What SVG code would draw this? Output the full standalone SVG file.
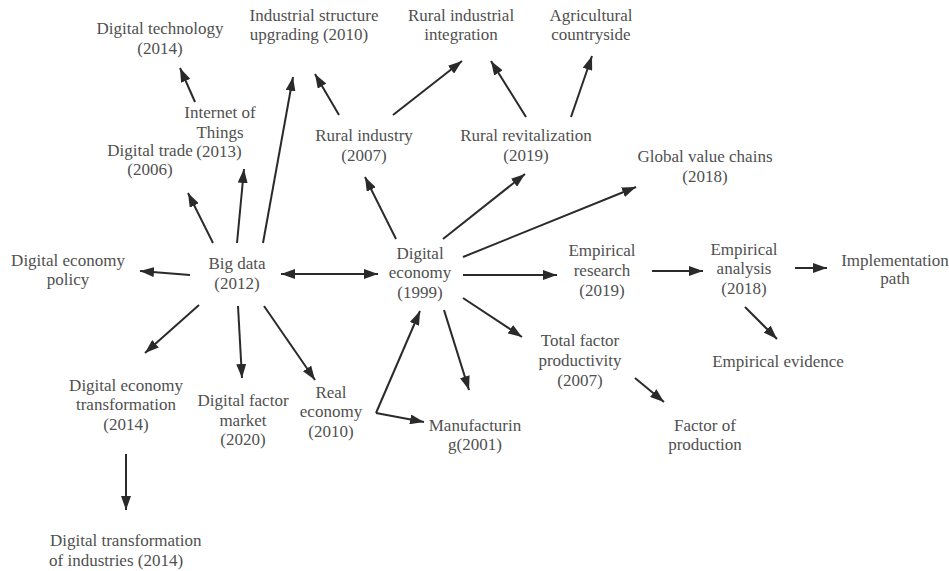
<svg xmlns="http://www.w3.org/2000/svg" width="949" height="571" viewBox="0 0 949 571">
<style>
text{font-family:"Liberation Serif","Times New Roman",serif;font-size:17px;fill:#505050;text-anchor:middle}
.conn line{stroke:#2a2a2a;stroke-width:2;fill:none;marker-end:url(#ah)}
</style>
<defs>
<marker id="ah" viewBox="0 0 14 10" refX="14" refY="5" markerWidth="14" markerHeight="10" markerUnits="userSpaceOnUse" orient="auto-start-reverse">
<path d="M0,0 L14,5 L0,10 z" fill="#2a2a2a"/>
</marker>
</defs>
<rect width="949" height="571" fill="#ffffff"/>
<g id="connectors" class="conn">
<line x1="195" y1="102" x2="180" y2="68"/>
<line x1="237" y1="243" x2="244" y2="169"/>
<line x1="213" y1="243" x2="188" y2="193"/>
<line x1="263" y1="243" x2="293" y2="77"/>
<line x1="339" y1="115" x2="315" y2="74"/>
<line x1="393" y1="115" x2="462" y2="61"/>
<line x1="526" y1="117" x2="491" y2="61"/>
<line x1="571" y1="117" x2="592" y2="56"/>
<line x1="396" y1="239" x2="365" y2="177"/>
<line x1="443" y1="239" x2="525" y2="174"/>
<line x1="463" y1="257" x2="636" y2="187"/>
<line x1="281" y1="274" x2="378" y2="274" marker-start="url(#ah)"/>
<line x1="463" y1="275" x2="557" y2="275"/>
<line x1="652" y1="271" x2="703" y2="271"/>
<line x1="795" y1="268" x2="827" y2="268"/>
<line x1="745" y1="307" x2="777" y2="339"/>
<line x1="463" y1="298" x2="522" y2="337"/>
<line x1="444" y1="310" x2="469" y2="390"/>
<line x1="635" y1="378" x2="664" y2="402"/>
<line x1="376" y1="413" x2="420" y2="311"/>
<line x1="376" y1="413" x2="424" y2="422"/>
<line x1="190" y1="275" x2="140" y2="271"/>
<line x1="199" y1="305" x2="145" y2="353"/>
<line x1="238" y1="306" x2="242" y2="378"/>
<line x1="264" y1="306" x2="315" y2="380"/>
<line x1="126" y1="454" x2="126" y2="510"/>
</g>
<g id="n_digital_technology"><text x="160" y="34">Digital technology</text><text x="160" y="54">(2014)</text></g>
<g id="n_industrial_structure"><text x="314" y="21">Industrial structure</text><text x="309" y="40">upgrading (2010)</text></g>
<g id="n_rural_industrial_integration"><text x="461" y="21">Rural industrial</text><text x="461" y="40">integration</text></g>
<g id="n_agricultural_countryside"><text x="591" y="21">Agricultural</text><text x="591" y="40">countryside</text></g>
<g id="n_internet_of_things"><text x="220" y="118">Internet of</text><text x="220" y="138">Things</text><text x="219" y="157">(2013)</text></g>
<g id="n_digital_trade"><text x="150" y="156">Digital trade</text><text x="150" y="175">(2006)</text></g>
<g id="n_rural_industry"><text x="364" y="141">Rural industry</text><text x="364" y="161">(2007)</text></g>
<g id="n_rural_revitalization"><text x="526" y="141">Rural revitalization</text><text x="526" y="161">(2019)</text></g>
<g id="n_global_value_chains"><text x="705" y="162">Global value chains</text><text x="705" y="182">(2018)</text></g>
<g id="n_digital_economy_policy"><text x="68" y="266">Digital economy</text><text x="68" y="285">policy</text></g>
<g id="n_big_data"><text x="237" y="269">Big data</text><text x="237" y="289">(2012)</text></g>
<g id="n_digital_economy"><text x="420" y="259">Digital</text><text x="420" y="278">economy</text><text x="420" y="298">(1999)</text></g>
<g id="n_empirical_research"><text x="602" y="256">Empirical</text><text x="602" y="276">research</text><text x="602" y="296">(2019)</text></g>
<g id="n_empirical_analysis"><text x="744" y="255">Empirical</text><text x="744" y="274">analysis</text><text x="744" y="294">(2018)</text></g>
<g id="n_implementation_path"><text x="895" y="266">Implementation</text><text x="895" y="284">path</text></g>
<g id="n_empirical_evidence"><text x="778" y="367">Empirical evidence</text></g>
<g id="n_total_factor_productivity"><text x="580" y="346">Total factor</text><text x="580" y="366">productivity</text><text x="580" y="386">(2007)</text></g>
<g id="n_factor_of_production"><text x="705" y="431">Factor of</text><text x="705" y="450">production</text></g>
<g id="n_manufacturing"><text x="475" y="431">Manufacturin</text><text x="475" y="450">g(2001)</text></g>
<g id="n_real_economy"><text x="331" y="398">Real</text><text x="331" y="417">economy</text><text x="331" y="437">(2010)</text></g>
<g id="n_digital_factor_market"><text x="243" y="406">Digital factor</text><text x="243" y="426">market</text><text x="243" y="445">(2020)</text></g>
<g id="n_digital_economy_transformation"><text x="126" y="391">Digital economy</text><text x="126" y="410">transformation</text><text x="126" y="430">(2014)</text></g>
<g id="n_digital_transformation_industries"><text x="50" y="546" style="text-anchor:start">Digital transformation</text><text x="49" y="566" style="text-anchor:start">of industries (2014)</text></g>
</svg>
